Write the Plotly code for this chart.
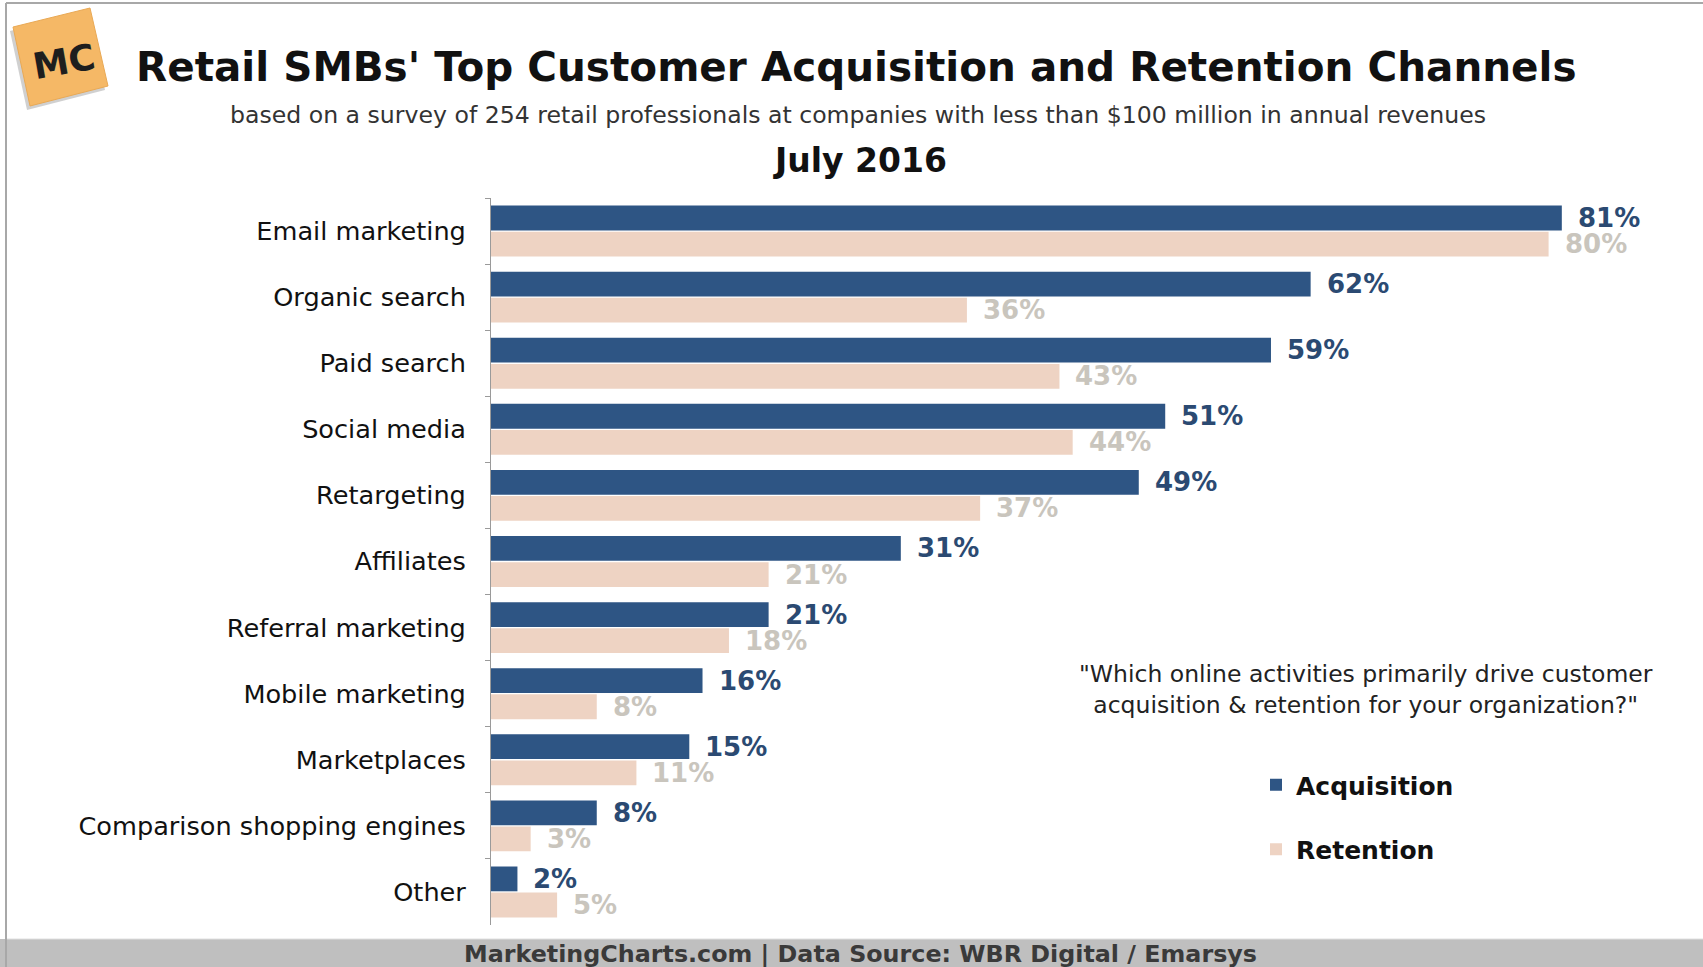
import plotly.graph_objects as go

# Survey data (share of respondents, %)
channels = [
    "Email marketing", "Organic search", "Paid search", "Social media",
    "Retargeting", "Affiliates", "Referral marketing", "Mobile marketing",
    "Marketplaces", "Comparison shopping engines", "Other",
]
acquisition = [81, 62, 59, 51, 49, 31, 21, 16, 15, 8, 2]
retention = [80, 36, 43, 44, 37, 21, 18, 8, 11, 3, 5]

W, H = 1703, 967
ML, MR, MT, MB = 491, 53, 198, 42
PW, PH = W - ML - MR, H - MT - MB


def px(x):
    return (x - ML) / PW


def py(y):
    return (H - MB - y) / PH


NAVY = "#2e5584"
NAVY_TXT = "#2b4a72"
PEACH = "#eed3c3"
PEACH_TXT = "#c9c5bd"
FONT = "DejaVu Sans"

fig = go.Figure()
fig.add_trace(go.Bar(
    y=channels, x=acquisition, orientation="h", name="Acquisition",
    marker=dict(color=NAVY, line=dict(width=0)), legendgroup="a",
))
fig.add_trace(go.Bar(
    y=channels, x=retention, orientation="h", name="Retention",
    marker=dict(color=PEACH, line=dict(width=0)), legendgroup="r",
))

BARGAP, GROUPGAP = 0.21, 0.05
slot = (1 - BARGAP) / 2

annotations = []
for i, (a, r) in enumerate(zip(acquisition, retention)):
    annotations.append(dict(
        x=a, y=i - slot / 2, xref="x", yref="y", text=f"{a}%",
        showarrow=False, xanchor="left", yanchor="middle", xshift=14,
        font=dict(family=FONT, size=26, color=NAVY_TXT, weight="bold"),
    ))
    annotations.append(dict(
        x=r, y=i + slot / 2, xref="x", yref="y", text=f"{r}%",
        showarrow=False, xanchor="left", yanchor="middle", xshift=14,
        font=dict(family=FONT, size=26, color=PEACH_TXT, weight="bold"),
    ))


def label(x, y, text, size, color="#111", **kw):
    return dict(x=px(x), y=py(y), xref="paper", yref="paper", text=text,
                showarrow=False, xanchor="center", yanchor="middle",
                font=dict(family=FONT, size=size, color=color), **kw)


# Headings, question, source line and logo lettering
annotations += [
    label(856, 67, "<b>Retail SMBs' Top Customer Acquisition and Retention Channels</b>", 40.5),
    label(858, 115, "based on a survey of 254 retail professionals at companies with less than $100 million in annual revenues", 23.6, "#333"),
    label(860, 160, "<b>July 2016</b>", 33),
    label(1366, 689, "\"Which online activities primarily drive customer<br>acquisition &amp; retention for your organization?\"", 23.5, "#222", align="center"),
    label(860, 954, "<b>MarketingCharts.com | Data Source: WBR Digital / Emarsys</b>", 23.8, "#3a3a3a"),
    label(64, 62, "<b>MC</b>", 36, "#1e1e1e", textangle=-10),
]

# Logo tile (with drop shadow), footer band and frame
logo = [(13, 27), (90, 8), (108, 86), (30, 106)]


def poly(points, dx=0, dy=0):
    return "M " + " L ".join(f"{px(x + dx)},{py(y + dy)}" for x, y in points) + " Z"


shapes = [
    dict(type="rect", xref="paper", yref="paper",
         x0=px(0), x1=px(W), y0=py(939), y1=py(H),
         fillcolor="#bfbfbf", line=dict(width=0), layer="below"),
    dict(type="line", xref="paper", yref="paper",
         x0=px(6), x1=px(W), y0=py(939), y1=py(939),
         line=dict(color="#e0e0e0", width=1)),
    dict(type="line", xref="paper", yref="paper",
         x0=px(6), x1=px(W), y0=py(3), y1=py(3),
         line=dict(color="#a8a8a8", width=2)),
    dict(type="line", xref="paper", yref="paper",
         x0=px(6), x1=px(6), y0=py(3), y1=py(H),
         line=dict(color="#a8a8a8", width=2)),
    dict(type="path", xref="paper", yref="paper", path=poly(logo, -3, 4),
         fillcolor="rgba(120,120,120,0.35)", line=dict(width=0)),
    dict(type="path", xref="paper", yref="paper", path=poly(logo),
         fillcolor="#f5b866", line=dict(color="#e9a955", width=1)),
]

fig.update_layout(
    width=W, height=H,
    margin=dict(l=ML, r=MR, t=MT, b=MB),
    paper_bgcolor="white", plot_bgcolor="white",
    barmode="group", bargap=BARGAP, bargroupgap=GROUPGAP,
    font=dict(family=FONT, color="#111"),
    xaxis=dict(range=[0, PW / 13.22], visible=False, fixedrange=True),
    yaxis=dict(
        autorange="reversed", type="category",
        showline=True, linecolor="#9a9a9a", linewidth=1,
        ticks="outside", tickson="boundaries", ticklen=5,
        tickcolor="#9a9a9a", ticklabelstandoff=19,
        tickfont=dict(family=FONT, size=25.6, color="#111"),
        showgrid=False, zeroline=False,
    ),
    showlegend=True,
    legend=dict(
        x=px(1256), y=py(762), xanchor="left", yanchor="top",
        traceorder="grouped", tracegroupgap=29,
        font=dict(family=FONT, size=25, color="#111", weight="bold"),
        bgcolor="rgba(0,0,0,0)",
    ),
    annotations=annotations,
    shapes=shapes,
)

fig.write_html("out.html")
